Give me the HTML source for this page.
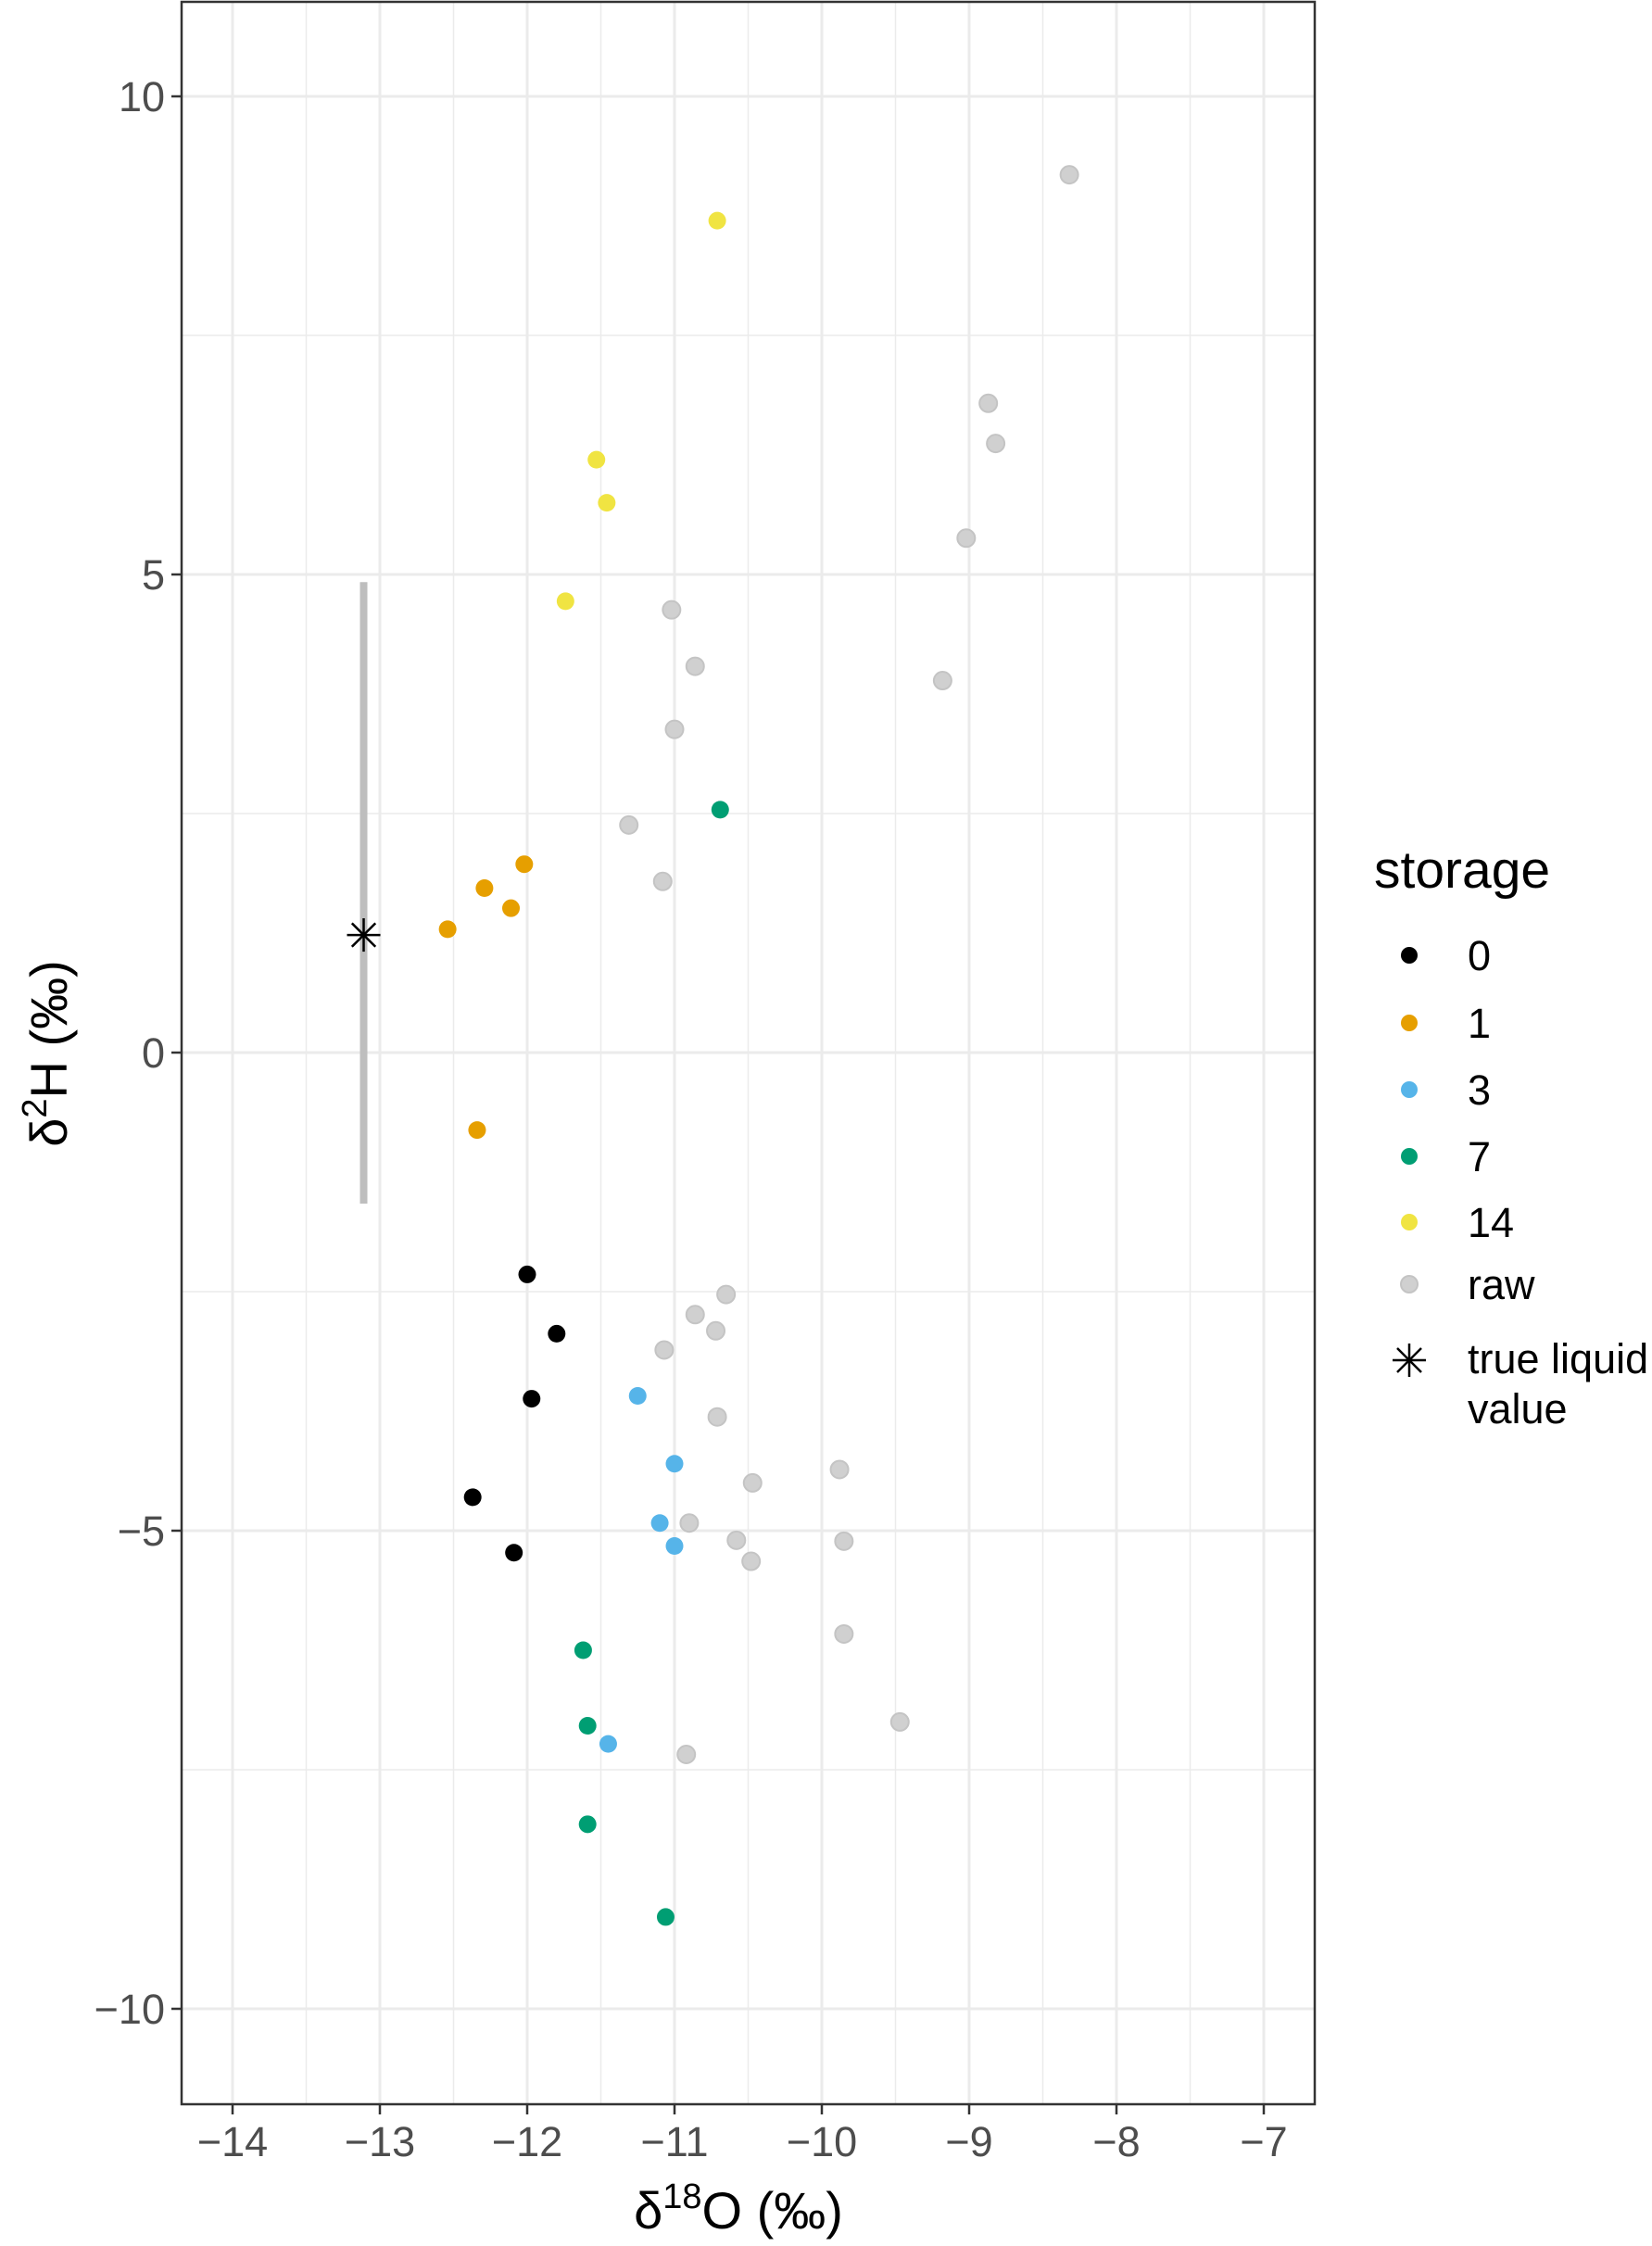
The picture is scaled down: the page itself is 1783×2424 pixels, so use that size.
<!DOCTYPE html>
<html><head><meta charset="utf-8"><style>
body{margin:0;background:#fff;}
svg text{font-family:"Liberation Sans","DejaVu Sans",sans-serif;}
</style></head><body>
<svg id="chart" width="1783" height="2419" viewBox="0 0 1783 2419" xmlns="http://www.w3.org/2000/svg"></svg>
<script>
const xTicks=[-14,-13,-12,-11,-10,-9,-8,-7];
const yTicks=[-10,-5,0,5,10];
const groups=["0","1","3","7","14","raw"];
const groupColors=["#000000","#E69F00","#56B4E9","#009E73","#F0E442","#BEBEBE"];
const rawX=[-8.32,-8.87,-8.82,-9.02,-9.18,-11.02,-10.86,-11.00,-11.31,-11.08,-10.65,-10.86,-10.72,-11.07,-10.71,-9.88,-10.47,-10.90,-10.58,-9.85,-10.48,-9.85,-9.47,-10.92];
const rawY=[9.18,6.79,6.37,5.38,3.89,4.63,4.04,3.38,2.38,1.79,-2.53,-2.74,-2.91,-3.11,-3.81,-4.36,-4.50,-4.92,-5.10,-5.11,-5.32,-6.08,-7.00,-7.34];
const s14X=[-10.71,-11.53,-11.46,-11.74];
const s14Y=[8.70,6.20,5.75,4.72];
const s7X=[-10.69,-11.62,-11.59,-11.59,-11.06];
const s7Y=[2.54,-6.25,-7.04,-8.07,-9.04];
const s1X=[-12.02,-12.29,-12.11,-12.54,-12.34];
const s1Y=[1.97,1.72,1.51,1.29,-0.81];
const s3X=[-11.25,-11.00,-11.10,-11.00,-11.45];
const s3Y=[-3.59,-4.30,-4.92,-5.16,-7.23];
const s0X=[-12.00,-11.80,-11.97,-12.37,-12.09];
const s0Y=[-2.32,-2.94,-3.62,-4.65,-5.23];
const trueX=[-13.11];
const trueY=[1.23];
const trueLow=[-1.58];
const trueHigh=[4.92];

const NS="http://www.w3.org/2000/svg";
const svg=document.getElementById('chart');
const L=196,R=1419,T=2,B=2271;
const sx=v=>251+(v+14)*159;
const sy=v=>104+(10-v)*103.2;
function mk(tag,attrs,parent){const e=document.createElementNS(NS,tag);for(const k in attrs)e.setAttribute(k,attrs[k]);(parent||svg).appendChild(e);return e;}

const grid=mk('g',{});


for(let v=-14.5;v<=-6.5;v+=1){if(sx(v)<=L||sx(v)>=R)continue;const l=mk('line',{x1:sx(v),x2:sx(v),y1:T,y2:B,stroke:'#ebebeb','stroke-width':1.5},grid);}
for(let v=-12.5;v<=12.5;v+=5){if(sy(v)<=T||sy(v)>=B)continue;const l=mk('line',{x1:L,x2:R,y1:sy(v),y2:sy(v),stroke:'#ebebeb','stroke-width':1.5},grid);}
xTicks.forEach(v=>{const l=mk('line',{x1:sx(v),x2:sx(v),y1:T,y2:B,stroke:'#ebebeb','stroke-width':3},grid);});
yTicks.forEach(v=>{const l=mk('line',{x1:L,x2:R,y1:sy(v),y2:sy(v),stroke:'#ebebeb','stroke-width':3},grid);});

trueX.forEach((x,i)=>{
const bar=mk('line',{x1:sx(x),x2:sx(x),y1:sy(trueHigh[i]),y2:sy(trueLow[i]),stroke:'#BEBEBE','stroke-width':8});


});

const series=[[s0X,s0Y,0],[s1X,s1Y,1],[s3X,s3Y,2],[s7X,s7Y,3],[s14X,s14Y,4],[rawX,rawY,5]];
series.slice().reverse().forEach(([xs,ys,gi])=>{
const g=mk('g',{});


xs.forEach((x,i)=>{const c=mk('circle',{cx:sx(x),cy:sy(ys[i]),r:9.5,fill:groupColors[gi]},g);
if(gi===5){c.setAttribute('fill','#d0d0d0');c.setAttribute('stroke','#c4c4c4');c.setAttribute('stroke-width','2');}

});
});

function star(cx,cy,r,parent){const g=mk('g',{stroke:'#000','stroke-width':2.5},parent);
for(let k=0;k<4;k++){const a=k*Math.PI/4;mk('line',{x1:cx-r*Math.cos(a),y1:cy-r*Math.sin(a),x2:cx+r*Math.cos(a),y2:cy+r*Math.sin(a)},g);}return g;}
trueX.forEach((x,i)=>{const s=star(sx(x),sy(trueY[i]),18);

});

const border=mk('rect',{x:L,y:T,width:R-L,height:B-T,fill:'none',stroke:'#333','stroke-width':2.5});



xTicks.forEach(v=>{
const t=mk('line',{x1:sx(v),x2:sx(v),y1:B,y2:B+11,stroke:'#333','stroke-width':2.5});


const lb=mk('text',{x:sx(v),y:2327,'text-anchor':'middle','font-size':45,fill:'#4d4d4d'});
lb.textContent=v<0?'\u2212'+Math.abs(v):String(v);


});
yTicks.forEach(v=>{
const t=mk('line',{x1:L-11,x2:L,y1:sy(v),y2:sy(v),stroke:'#333','stroke-width':2.5});


const lb=mk('text',{x:L-18,y:sy(v)+16,'text-anchor':'end','font-size':45,fill:'#4d4d4d'});
lb.textContent=v<0?'\u2212'+Math.abs(v):String(v);


});
</script>
<svg style="position:absolute;left:0;top:0" width="1783" height="2419">
<text x="797" y="2405" text-anchor="middle" font-size="56" fill="#000" font-family="Liberation Sans, sans-serif">δ<tspan font-size="38" dy="-22">18</tspan><tspan dy="22">O (‰)</tspan></text>
<text transform="translate(72,1137) rotate(-90)" text-anchor="middle" font-size="56" fill="#000" font-family="Liberation Sans, sans-serif">δ<tspan font-size="38" dy="-22">2</tspan><tspan dy="22">H (‰)</tspan></text>
<g font-family="Liberation Sans, sans-serif">
<text x="1483" y="958" font-size="57" fill="#000">storage</text>
<circle cx="1521" cy="1031" r="9" fill="#000000"/>
<text x="1584" y="1047" font-size="45">0</text>
<circle cx="1521" cy="1104" r="9" fill="#E69F00"/>
<text x="1584" y="1120" font-size="45">1</text>
<circle cx="1521" cy="1176" r="9" fill="#56B4E9"/>
<text x="1584" y="1192" font-size="45">3</text>
<circle cx="1521" cy="1248" r="9" fill="#009E73"/>
<text x="1584" y="1264" font-size="45">7</text>
<circle cx="1521" cy="1319" r="9" fill="#F0E442"/>
<text x="1584" y="1335" font-size="45">14</text>
<circle cx="1521" cy="1386" r="9" fill="#d0d0d0" stroke="#c4c4c4" stroke-width="2"/>
<text x="1584" y="1402" font-size="45">raw</text>
<g stroke="#000" stroke-width="2.5">
<line x1="1503" y1="1468" x2="1539" y2="1468"/><line x1="1521" y1="1450" x2="1521" y2="1486"/>
<line x1="1508" y1="1455" x2="1534" y2="1481"/><line x1="1534" y1="1455" x2="1508" y2="1481"/></g>
<text x="1584" y="1482" font-size="45">true liquid</text>
<text x="1584" y="1536" font-size="45">value</text>
</g>
</svg>
</body></html>
